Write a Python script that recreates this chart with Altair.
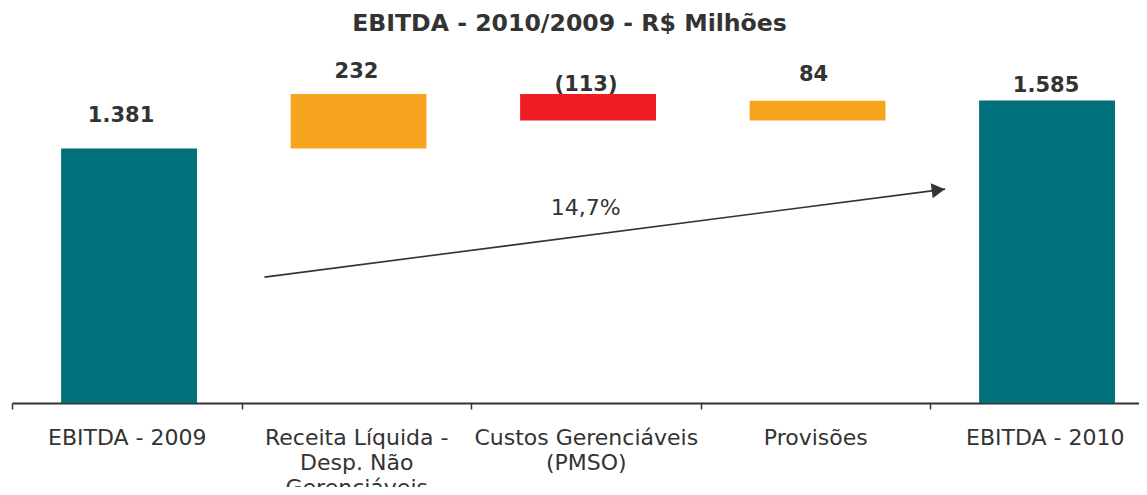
import json
import altair as alt
import pandas as pd

# ---------------- data ----------------
categories = [
    "EBITDA - 2009",
    "Receita Líquida -|Desp. Não|Gerenciáveis",
    "Custos Gerenciáveis|(PMSO)",
    "Provisões",
    "EBITDA - 2010",
]
values = [1381, 232, -113, 84, 1585]
value_labels = ["1.381", "232", "(113)", "84", "1.585"]
kinds = ["total", "up", "down", "up", "total"]

growth_label = ["14,7%"]
growth_x = [2.5]
growth_y = [1129]
arrow_x = [1.10, 4.066]
arrow_y = [835, 1209]

# ---------------- style ----------------
TEXT = "#333333"
FONT = "DejaVu Sans"
Y_MIN, Y_MAX = 300, 1800
PLOT_W = 1127
X_MAX = PLOT_W / 229.5
BAR_HALF = 0.296
BAR_SHIFT = 0.01
label_dy = [-27, -16, -3, -20, -9]
label_dx = [-8, -2, -2, -4, -1]
color_domain = ["total", "up", "down"]
color_range = ["#00707A", "#F7A51E", "#EE1D24"]

# ---------------- table ----------------
rows = []
running = 0
for i, (c, v, lab, k) in enumerate(zip(categories, values, value_labels, kinds)):
    if k == "total":
        lo, hi = 0, v
        running = v
    else:
        start = running
        running = running + v
        lo, hi = min(start, running), max(start, running)
    xc = i + 0.5 + BAR_SHIFT
    rows.append(dict(i=i, cat=c, x0=xc - BAR_HALF, x1=xc + BAR_HALF,
                     xc=xc, bottom=lo, top=hi, label=lab, kind=k))
df = pd.DataFrame(rows)

# axis label expression (multi-line via split)
expr = "''"
for i in reversed(range(len(categories))):
    expr = f"datum.value == {i + 0.5} ? split({json.dumps(categories[i], ensure_ascii=False)}, '|') : ({expr})"

xscale = alt.Scale(domain=[0, X_MAX], nice=False, zero=False)
yscale = alt.Scale(domain=[Y_MIN, Y_MAX], nice=False, zero=False, clamp=True)

x_axis = alt.Axis(
    values=[k * 0.5 for k in range(10)],
    labelExpr=expr,
    tickOpacity={"condition": {"test": "datum.value % 1 != 0", "value": 0}, "value": 1},
    grid=False,
    domainColor=TEXT,
    domainWidth=2,
    tickColor=TEXT,
    tickWidth=1.5,
    tickSize=6,
    labelFont=FONT,
    labelFontSize=22,
    labelColor=TEXT,
    labelPadding=18,
    labelLineHeight=25,
    labelLimit=0,
    labelOverlap=False,
    labelFlush=False,
    labelBound=False,
    labelBaseline="top",
    title=None,
)

base = alt.Chart(df)

bars = base.mark_bar().encode(
    x=alt.X("x0:Q", scale=xscale, axis=x_axis),
    x2="x1:Q",
    y=alt.Y("top:Q", scale=yscale, axis=None),
    y2="bottom:Q",
    color=alt.Color("kind:N", scale=alt.Scale(domain=color_domain, range=color_range), legend=None),
)

text_layers = []
for i in range(len(categories)):
    text_layers.append(
        base.transform_filter(f"datum.i == {i}")
        .mark_text(font=FONT, fontSize=21, fontWeight="bold", color=TEXT,
                   baseline="alphabetic", dy=label_dy[i], dx=label_dx[i])
        .encode(x=alt.X("xc:Q", scale=xscale), y=alt.Y("top:Q", scale=yscale), text="label:N")
    )

arrow_df = pd.DataFrame({"x": [arrow_x[0]], "y": [arrow_y[0]], "x2": [arrow_x[1]], "y2": [arrow_y[1]]})
arrow = alt.Chart(arrow_df).mark_rule(color=TEXT, strokeWidth=1.6).encode(
    x=alt.X("x:Q", scale=xscale), x2="x2:Q",
    y=alt.Y("y:Q", scale=yscale), y2="y2:Q",
)
head_df = pd.DataFrame({
    "x": [arrow_x[1] - 0.03],
    "y": [arrow_y[1] - 0.03 * (arrow_y[1] - arrow_y[0]) / (arrow_x[1] - arrow_x[0])],
})
head = alt.Chart(head_df).mark_point(shape="triangle-right", filled=True, size=230,
                                     angle=352.6, color=TEXT, opacity=1).encode(
    x=alt.X("x:Q", scale=xscale), y=alt.Y("y:Q", scale=yscale)
)
growth_df = pd.DataFrame({"x": growth_x, "y": growth_y, "t": growth_label})
growth = alt.Chart(growth_df).mark_text(font=FONT, fontSize=22, color=TEXT, baseline="middle").encode(
    x=alt.X("x:Q", scale=xscale), y=alt.Y("y:Q", scale=yscale), text="t:N"
)

chart = alt.layer(bars, *text_layers, arrow, head, growth).properties(
    width=PLOT_W,
    height=353,
    autosize=alt.AutoSizeParams(type="none"),
    padding={"left": 4, "top": 42, "right": 0, "bottom": 84},
    title=alt.TitleParams(
        "EBITDA - 2010/2009 - R$ Milhões",
        font=FONT, fontSize=23.6, fontWeight="bold", color=TEXT,
        anchor="middle", baseline="alphabetic", offset=17, dx=-6, dy=22,
    ),
).configure_view(stroke=None)

chart.save("out.html", embed_options={"renderer": "svg", "actions": False})
